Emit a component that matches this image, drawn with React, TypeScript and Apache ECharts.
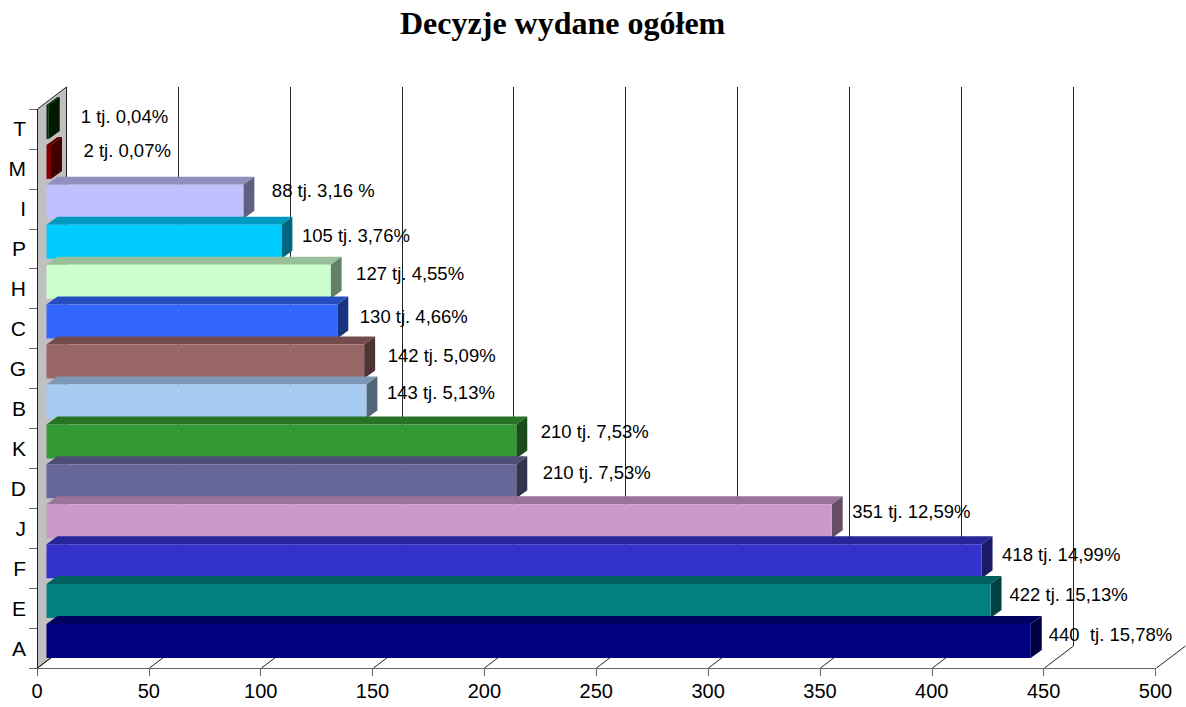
import React, { useEffect, useRef } from "react";
import * as echarts from "echarts";

const TITLE = "Decyzje wydane ogółem";
const categories = ["A", "E", "F", "J", "D", "K", "B", "G", "C", "H", "P", "I", "M", "T"];
const values = [440, 422, 418, 351, 210, 210, 143, 142, 130, 127, 105, 88, 2, 1];
const labels = [
  "440  tj. 15,78%", "422 tj. 15,13%", "418 tj. 14,99%", "351 tj. 12,59%",
  "210 tj. 7,53%", "210 tj. 7,53%", "143 tj. 5,13%", "142 tj. 5,09%",
  "130 tj. 4,66%", "127 tj. 4,55%", "105 tj. 3,76%", "88 tj. 3,16 %",
  "2 tj. 0,07%", "1 tj. 0,04%",
];
const ticks = [0, 50, 100, 150, 200, 250, 300, 350, 400, 450, 500];

// [front, top, side] per category
const palette = [
  ["#000080", "#000060", "#000040"], ["#008080", "#006060", "#004040"],
  ["#3333cc", "#26269a", "#1a1a66"], ["#cc99cc", "#997399", "#664d66"],
  ["#666699", "#4d4d73", "#33334d"], ["#339933", "#267326", "#1a4d1a"],
  ["#a6caf0", "#7d98b4", "#536578"], ["#996666", "#734d4d", "#4d3333"],
  ["#3366ff", "#264dbf", "#1a3380"], ["#ccffcc", "#99bf99", "#668066"],
  ["#00ccff", "#0099bf", "#006680"], ["#c0c0ff", "#9090bf", "#606080"],
  ["#800000", "#600000", "#400000"], ["#003300", "#002600", "#001a00"],
];
// hand-placed label nudges [dx from bar's side, dy from bar's centre], as in the source
const labelNudge = [
  [7, -7], [8, -7], [9.5, -7], [9.5, -10], [15.5, -9], [13.5, -10], [9.5, -8.5],
  [12.5, -6.5], [11.5, -5.5], [14.5, -8.5], [9.5, -6.5], [17.5, -11], [21.5, -11], [21, -5],
];

const BACK_X = 29, BACK_Y = -22, WALL_TOP_Y = 87;
const FRONT_X = 9.5, FRONT_Y = -7, BAR_H = 34, SIDE_X = 11, SIDE_Y = -8;

const barOrder = categories.map((_, i) => i).reverse();

function renderGrid(params: any, api: any) {
  const v = api.value(0);
  const cs = params.coordSys;
  const x = Math.round(api.coord([v, 0])[0]) + 0.5;
  const floorY = cs.y + cs.height;
  const children: any[] = [];
  const lineStyle = { stroke: "#222", lineWidth: 1, fill: "none" };
  if (v === 0) {
    children.push({
      type: "polygon",
      shape: { points: [[x, cs.y], [x + BACK_X, WALL_TOP_Y], [x + BACK_X, floorY + BACK_Y], [x, floorY]] },
      style: { fill: "#c0c0c0", stroke: "#222", lineWidth: 1 },
    });
  }
  children.push({
    type: "line",
    shape: { x1: x, y1: floorY, x2: x + BACK_X, y2: floorY + BACK_Y },
    style: lineStyle,
  });
  if (v < ticks[ticks.length - 1]) {
    children.push({
      type: "line",
      shape: { x1: x + BACK_X, y1: floorY + BACK_Y, x2: x + BACK_X, y2: WALL_TOP_Y },
      style: lineStyle,
    });
  }
  return { type: "group", children };
}

function renderBar(_params: any, api: any) {
  const idx = api.value(1);
  const [xv, yc] = api.coord([api.value(0), idx]);
  const [x0] = api.coord([0, idx]);
  const left = x0 + FRONT_X;
  const right = xv + FRONT_X;
  const top = yc + FRONT_Y - BAR_H / 2;
  const bottom = top + BAR_H;
  const [front, topC, side] = palette[idx];
  return {
    type: "group",
    children: [
      {
        type: "polygon",
        shape: { points: [[left, top], [left + SIDE_X, top + SIDE_Y], [right + SIDE_X, top + SIDE_Y], [right, top]] },
        style: { fill: topC },
      },
      {
        type: "polygon",
        shape: { points: [[right, top], [right + SIDE_X, top + SIDE_Y], [right + SIDE_X, bottom + SIDE_Y], [right, bottom]] },
        style: { fill: side },
      },
      { type: "rect", shape: { x: left, y: top, width: right - left, height: BAR_H }, style: { fill: front } },
    ],
  };
}

function renderLabel(_params: any, api: any) {
  const idx = api.value(1);
  const [xv, yc] = api.coord([api.value(0), idx]);
  const [dx, dy] = labelNudge[idx];
  return {
    type: "text",
    x: xv + FRONT_X + SIDE_X + dx,
    y: yc + FRONT_Y + dy,
    style: {
      text: labels[idx],
      fill: "#000",
      fontSize: 18.5,
      fontFamily: "'Liberation Sans', Arial, sans-serif",
      textAlign: "left",
      textVerticalAlign: "middle",
    },
  };
}

export default function App() {
  const ref = useRef<HTMLDivElement>(null);
  useEffect(() => {
    const chart = echarts.init(ref.current!, undefined, { renderer: "svg" });
    const barData = barOrder.map((i) => [values[i], categories[i]]);
    chart.setOption({
      animation: false,
      backgroundColor: "#fff",
      title: {
        text: TITLE,
        left: 395,
        top: 2,
        textStyle: { fontFamily: "'Liberation Serif', 'Times New Roman', serif", fontWeight: "bold", fontSize: 32, color: "#000" },
      },
      grid: { left: 37, right: 30.5, top: 109, bottom: 39, containLabel: false },
      xAxis: {
        type: "value",
        min: 0,
        max: 500,
        interval: 50,
        splitLine: { show: false },
        axisLine: { show: true, lineStyle: { color: "#666", width: 1 } },
        axisTick: { show: true, length: 8, lineStyle: { color: "#666" } },
        axisLabel: { color: "#000", fontSize: 20, margin: 13, fontFamily: "'Liberation Sans', Arial, sans-serif" },
      },
      yAxis: {
        type: "category",
        data: categories,
        axisLine: { show: false },
        axisTick: { show: true, length: 8, alignWithLabel: false, lineStyle: { color: "#666" } },
        axisLabel: { color: "#000", fontSize: 21, margin: 11, padding: [0, 0, 6, 0], fontFamily: "'Liberation Sans', Arial, sans-serif" },
      },
      series: [
        { type: "custom", z: 1, renderItem: renderGrid, data: ticks.map((t) => [t]), encode: { x: 0 }, silent: true },
        { type: "custom", z: 2, renderItem: renderBar, data: barData, encode: { x: 0, y: 1 }, silent: true },
        { type: "custom", z: 3, renderItem: renderLabel, data: barData, encode: { x: 0, y: 1 }, silent: true },
      ],
    });
    return () => chart.dispose();
  }, []);
  return <div ref={ref} style={{ position: "absolute", left: 0, top: 0, width: 1186, height: 707 }} />;
}
